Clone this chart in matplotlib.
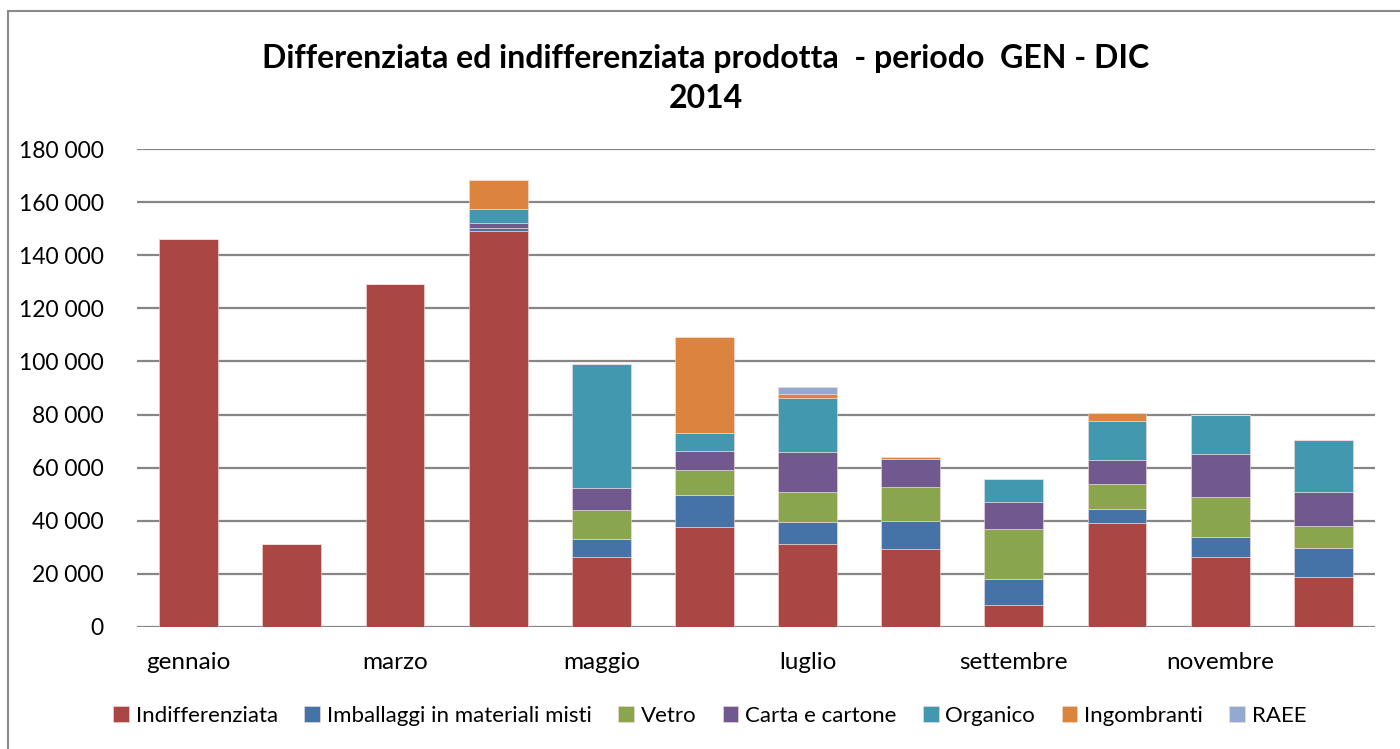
import matplotlib.pyplot as plt
import numpy as np
from matplotlib.patches import Rectangle
from matplotlib.ticker import FuncFormatter

months = ['gennaio', 'febbraio', 'marzo', 'aprile', 'maggio', 'giugno',
          'luglio', 'agosto', 'settembre', 'ottobre', 'novembre', 'dicembre']

indifferenziata = [146200, 31200, 129100, 149300, 26200, 37500, 31200, 29200, 8100, 39000, 26500, 18900]
imballaggi = [0, 0, 0, 900, 7000, 12200, 8400, 10800, 9800, 5500, 7500, 11000]
vetro = [0, 0, 0, 0, 10700, 9400, 11100, 12600, 19000, 9300, 14900, 8300]
carta = [0, 0, 0, 1800, 8600, 7100, 15300, 10500, 10000, 9000, 16100, 12500]
organico = [0, 0, 0, 5500, 46600, 6800, 20400, 0, 8800, 14900, 15000, 19600]
ingombranti = [0, 0, 0, 10900, 0, 36100, 1300, 900, 0, 2900, 0, 0]
raee = [0, 0, 0, 0, 0, 0, 2700, 0, 0, 0, 0, 0]

series = [
    ('Indifferenziata', indifferenziata, '#AA4643'),
    ('Imballaggi in materiali misti', imballaggi, '#4572A7'),
    ('Vetro', vetro, '#89A54E'),
    ('Carta e cartone', carta, '#71588F'),
    ('Organico', organico, '#4198AF'),
    ('Ingombranti', ingombranti, '#DB843D'),
    ('RAEE', raee, '#93A9CF'),
]

plt.rcParams['font.family'] = ['Lato', 'DejaVu Sans']

fig = plt.figure(figsize=(14, 7.49), dpi=100)
ax = fig.add_axes([0.0979, 0.1629, 0.8842, 0.6381])

# chart frame like the spreadsheet export
fig.patches.append(Rectangle((8 / 1400, -0.05), 1.05, 1 - 11 / 749 + 0.05,
                             transform=fig.transFigure, fill=False,
                             edgecolor='#8a8a8a', linewidth=1.5))

x = np.arange(len(months))
bottom = np.zeros(len(months))
for name, vals, col in series:
    vals = np.array(vals, dtype=float)
    ax.bar(x, vals, 0.57, bottom=bottom, color=col, label=name,
           edgecolor='#f2dcdc', linewidth=0.4, zorder=3)
    bottom += vals

ax.set_xlim(-0.5, len(months) - 0.5)
ax.set_ylim(0, 180000)
ax.set_yticks(np.arange(0, 180001, 20000))
ax.yaxis.set_major_formatter(FuncFormatter(lambda v, p: f'{int(v):,}'.replace(',', ' ')))
ax.set_xticks(x[::2])
ax.set_xticklabels(months[::2])
ax.tick_params(axis='both', length=0, colors='black')
ax.tick_params(axis='x', pad=18, labelsize=17.5)
ax.tick_params(axis='y', pad=24, labelsize=16.5)
ax.grid(axis='y', color='#868686', linewidth=1.6, zorder=0)
for s in ax.spines.values():
    s.set_visible(False)

fig.text(0.504, 0.922, 'Differenziata ed indifferenziata prodotta  - periodo  GEN - DIC',
         ha='center', va='center', fontsize=23, fontweight='bold')
fig.text(0.504, 0.869, '2014', ha='center', va='center', fontsize=23, fontweight='bold')

fig.legend(loc='center', bbox_to_anchor=(0.507, 0.044), ncol=7, frameon=False,
           fontsize=16, handlelength=0.7, handleheight=0.7, handletextpad=0.3,
           columnspacing=1.2)

fig.savefig('out.png', dpi=100)
